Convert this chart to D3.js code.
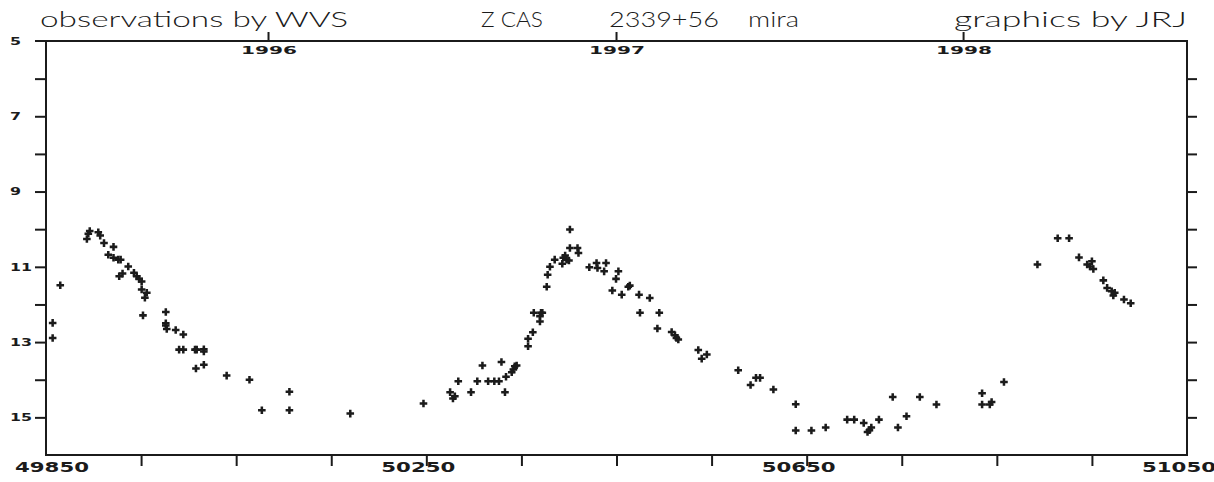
<!DOCTYPE html>
<html>
<head>
<meta charset="utf-8">
<script src="https://cdn.jsdelivr.net/npm/d3@7"></script>
<style>
  html, body { margin: 0; padding: 0; background: #fff; }
  svg { display: block; }
</style>
</head>
<body>
<svg id="chart" width="1214" height="482"></svg>
<script>
// ---- data (JD - 2400000, visual magnitude) ----
const jd = [
  49857, 49857, 49865, 49893, 49894.5, 49896, 49905, 49907, 49911, 49921,
  49915.5, 49921, 49926, 49928.5, 49936.5, 49927, 49930.5, 49942.5, 49945.4, 49948,
  49950.6, 49950.6, 49956, 49954, 49952, 49976, 49976, 49976, 49977, 49986.4,
  49994.4, 49990, 49994.4, 50006.7, 50008.5, 50016, 50016, 50007.7, 50016, 50040,
  50064, 50077, 50106, 50106, 50170, 50247, 50275, 50278, 50280, 50283.6,
  50297, 50303.6, 50309, 50315, 50321.5, 50326.4, 50329, 50332.7, 50333.8, 50339.8,
  50341.5, 50343, 50345, 50357, 50357, 50362, 50363, 50369.5, 50370.6, 50372,
  50369.5, 50376.6, 50377.6, 50380, 50385, 50393, 50394, 50396, 50397.6, 50400,
  50401, 50401, 50409, 50410, 50421.4, 50429, 50430, 50439, 50437, 50452,
  50449.5, 50445.6, 50455.5, 50462.4, 50464, 50473.7, 50485, 50474.7, 50495, 50493,
  50508, 50511.5, 50513, 50515, 50536, 50539.6, 50545, 50578, 50591, 50596.7,
  50601, 50615, 50638.5, 50638.5, 50655, 50670, 50692.6, 50700, 50710, 50718,
  50716, 50714, 50726, 50740.5, 50746, 50755, 50769, 50786.5, 50834.5, 50834.5,
  50842.6, 50844.5, 50857.5, 50892.7, 50914, 50926, 50936.4, 50945, 50950, 50951.5,
  50948, 50962, 50966, 50970.8, 50972.5, 50974, 50983.7, 50990.8
];
const mag = [
  12.89, 12.49, 11.49, 10.26, 10.12, 10.05, 10.08, 10.17, 10.37, 10.47,
  10.68, 10.76, 10.81, 10.81, 10.99, 11.25, 11.18, 11.16, 11.25, 11.32,
  11.39, 11.60, 11.69, 11.82, 12.29, 12.20, 12.50, 12.56, 12.65, 12.68,
  12.80, 13.20, 13.20, 13.20, 13.20, 13.19, 13.25, 13.70, 13.60, 13.89,
  14.00, 14.81, 14.32, 14.81, 14.90, 14.63, 14.33, 14.50, 14.44, 14.04,
  14.33, 14.04, 13.62, 14.04, 14.04, 14.04, 13.53, 14.33, 13.92, 13.80,
  13.73, 13.64, 13.62, 13.11, 12.91, 12.74, 12.22, 12.31, 12.22, 12.22,
  12.45, 11.53, 11.21, 11.00, 10.81, 10.92, 10.76, 10.70, 10.81, 10.83,
  10.01, 10.50, 10.50, 10.63, 11.01, 10.90, 11.03, 10.90, 11.12, 11.12,
  11.32, 11.63, 11.74, 11.53, 11.50, 11.74, 11.83, 12.22, 12.22, 12.64,
  12.73, 12.82, 12.89, 12.93, 13.21, 13.44, 13.33, 13.75, 14.14, 13.95,
  13.95, 14.26, 14.65, 15.35, 15.35, 15.27, 15.06, 15.06, 15.15, 15.27,
  15.34, 15.39, 15.06, 14.46, 15.27, 14.97, 14.46, 14.66, 14.36, 14.66,
  14.66, 14.59, 14.06, 10.94, 10.24, 10.24, 10.75, 10.94, 10.85, 11.06,
  10.99, 11.36, 11.56, 11.65, 11.76, 11.69, 11.87, 11.97
];

// axis ticks / labels
const xDomain = [49850, 51050];
const xMinorTicks = [49850, 49950, 50050, 50150, 50250, 50350, 50450, 50550, 50650, 50750, 50850, 50950, 51050];
const xTickLabels = [49850, 50250, 50650, 51050];
const yDomain = [5, 16];
const yTicks = [6, 7, 8, 9, 10, 11, 12, 13, 14, 15];
const yTickLabels = [5, 7, 9, 11, 13, 15];
const yearLabels = ["1996", "1997", "1998"];
const yearJD = [50083.5, 50449.5, 50814.5];

const titleTexts = ["observations by WVS", "Z CAS", "2339+56", "mira", "graphics by JRJ"];

// ---- drawing ----
const svg = d3.select("#chart");
const L = 46, R = 1187, T = 41, B = 455;
const ink = "#1b1b1b";

const x = d3.scaleLinear().domain(xDomain).range([L, R]);
const y = d3.scaleLinear().domain(yDomain).range([T, B]);

// frame
svg.append("rect").attr("x", L).attr("y", T).attr("width", R - L).attr("height", B - T)
  .attr("fill", "none").attr("stroke", ink).attr("stroke-width", 2);

// left ticks (outward)
svg.append("g").attr("transform", `translate(${L},0)`)
  .call(d3.axisLeft(y).tickValues(yTicks).tickSize(11).tickFormat(""))
  .call(g => g.select(".domain").remove())
  .call(g => g.selectAll("line").attr("stroke", ink).attr("stroke-width", 2));
// top extension at magnitude 5
svg.append("line").attr("x1", L - 11).attr("x2", L).attr("y1", y(5)).attr("y2", y(5))
  .attr("stroke", ink).attr("stroke-width", 2);

// right ticks (outward)
svg.append("g").attr("transform", `translate(${R},0)`)
  .call(d3.axisRight(y).tickValues(yTicks).tickSize(10).tickFormat(""))
  .call(g => g.select(".domain").remove())
  .call(g => g.selectAll("line").attr("stroke", ink).attr("stroke-width", 2));

// bottom ticks (downward)
svg.append("g").attr("transform", `translate(0,${B})`)
  .call(d3.axisBottom(x).tickValues(xMinorTicks.slice(1, -1)).tickSize(11).tickFormat(""))
  .call(g => g.select(".domain").remove())
  .call(g => g.selectAll("line").attr("stroke", ink).attr("stroke-width", 2));

// top year ticks (upward)
svg.append("g").attr("transform", `translate(0,${T})`)
  .call(d3.axisTop(x).tickValues(yearJD).tickSize(9).tickFormat(""))
  .call(g => g.select(".domain").remove())
  .call(g => g.selectAll("line").attr("stroke", ink).attr("stroke-width", 2));

// label font helper
function wideText(sel, txt, xPos, yBase, len, size, anchor) {
  return sel.append("text")
    .attr("x", xPos).attr("y", yBase)
    .attr("font-family", "DejaVu Sans, sans-serif")
    .attr("font-weight", "bold")
    .attr("font-size", size)
    .attr("text-anchor", anchor || "start")
    .attr("textLength", len)
    .attr("lengthAdjust", "spacingAndGlyphs")
    .attr("fill", ink)
    .text(txt);
}

// y labels
yTickLabels.forEach(v => {
  const s = String(v);
  wideText(svg, s, 10, y(v) + 3.8, s.length * 11, 10.5);
});

// x labels
xTickLabels.forEach(v => {
  const cx = Math.max(52, Math.min(1180, x(v) - 8));
  wideText(svg, String(v), cx - 37, 472, 74, 13.5);
});

// year labels
yearLabels.forEach((lab, i) => {
  wideText(svg, lab, x(yearJD[i]) + 1 - 28, 54, 56, 10);
});

// title texts
const titlePos = [[40, 308], [481, 62], [609, 110], [748, 51], [954, 233]];
titleTexts.forEach((t, i) => {
  svg.append("text")
    .attr("x", titlePos[i][0]).attr("y", 27)
    .attr("font-family", "Lato, 'DejaVu Sans', sans-serif")
    .attr("font-weight", 300)
    .attr("font-size", 21)
    .attr("textLength", titlePos[i][1])
    .attr("lengthAdjust", "spacingAndGlyphs")
    .attr("fill", ink)
    .text(t);
});

// data points
const sym = d3.symbol().type(d3.symbolCross).size(32);
svg.append("g").selectAll("path")
  .data(jd.map((d, i) => [d, mag[i]]))
  .join("path")
  .attr("transform", d => `translate(${x(d[0])},${y(d[1])})`)
  .attr("d", sym)
  .attr("fill", ink);
</script>
</body>
</html>
